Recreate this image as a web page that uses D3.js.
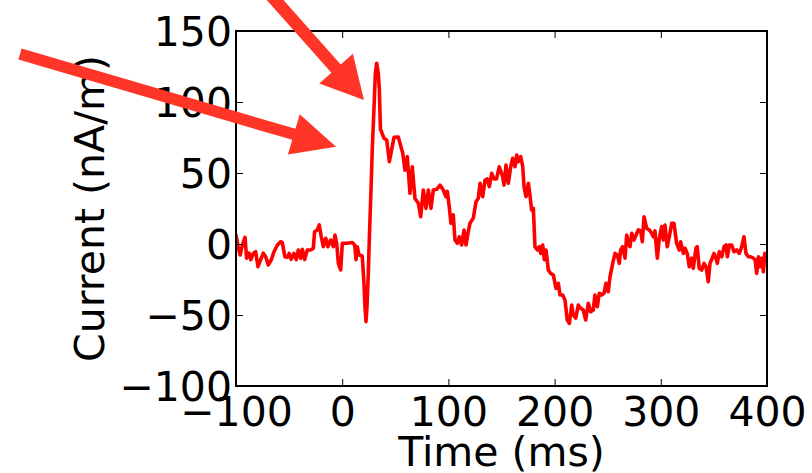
<!DOCTYPE html>
<html>
<head>
<meta charset="utf-8">
<script src="https://cdn.jsdelivr.net/npm/d3@7"></script>
<style>
  html, body { margin: 0; padding: 0; background: #fff; }
  svg { display: block; }
  text { font-family: "DejaVu Sans", sans-serif; fill: #000; }
</style>
</head>
<body>
<svg id="chart" width="812" height="473"></svg>
<script>
// ---- data ----
const time = [
  -100, -98, -96, -94, -91.5, -90, -87.8, -86, -83.7, -81.5, -79.3, -76.8, -74.3, -72, -69.6, -66.7,
  -64.2, -61, -58, -56.4, -54, -51.7, -50, -48, -45.4, -43.2, -41.3, -39, -37.6, -35.3, -32.9, -29.7,
  -27.2, -26, -23.5, -21.6, -19.7, -17.8, -15.5, -13.4, -10.9, -8.4, -6.8, -5.2, -3.6, -1.4, 0.1, 4.8,
  9.5, 11.8, 13, 14.2, 15.8, 18.9, 20.5, 21.5, 22.4, 23.3, 24.6, 25.5, 26.8, 28.3, 30, 31.2,
  32.5, 34, 35, 36, 39.4, 41.9, 44.4, 48.8, 52.8, 57, 59.1, 61.3, 63.8, 66, 68.5, 71.7,
  73.9, 76.4, 78.9, 81.1, 83.6, 85.8, 89, 92.1, 95.2, 97.7, 99, 100.8, 102.4, 104.6, 106.2, 108.4,
  110.3, 112.5, 114.7, 116.6, 118.7, 120.3, 123.4, 126, 128.2, 129.8, 132.3, 134.5, 136.6, 138.5, 140.8, 142.9,
  145.3, 147.9, 151.1, 152.4, 154.2, 156.4, 158.7, 160.5, 162.7, 164.3, 165.8, 168.1, 170, 171.2, 173.1, 175.3,
  176.8, 178.4, 180, 181.5, 183.7, 185.6, 186.9, 188.8, 190.3, 191.9, 194.1, 196.3, 198.8, 201.3, 203.5, 205.1,
  207.6, 209.8, 211.9, 213.9, 216.1, 217.6, 219.9, 222.3, 224.6, 227, 229.3, 231.7, 234, 236.4, 238, 240.2,
  242.1, 244.3, 246.5, 248.4, 250.5, 252.2, 254.7, 256.9, 259, 260.9, 262.2, 264.1, 266.3, 267.9, 269.4, 271,
  272.6, 274.8, 276.7, 278.8, 281.1, 282.6, 284.2, 286.7, 289.2, 291.4, 292.9, 294.5, 296.7, 298.6, 300.8, 302.4,
  303.9, 306.1, 308, 310.3, 312.4, 314.9, 317.4, 318.7, 321.2, 322.8, 324.9, 326.8, 329.1, 330.6, 333.1, 334.3,
  336.2, 338.5, 340.7, 342.6, 344.7, 346.3, 347.9, 350.1, 352, 353.2, 355.1, 357.4, 359.6, 361.5, 362.7, 364.6,
  366.8, 368.9, 371.5, 373.9, 376.2, 378.3, 380.2, 382.4, 384.6, 387.1, 388.7, 390.3, 391.9, 393.5, 395.1, 396.6,
  397.9, 399.2
];
const current = [
  6.3, -1.9, -7.7, -0.7, 4.7, -10, -6.4, -11, -6.6, -5.4, -16, -11, -6.5, -9, -14.8, -11,
  -5.4, -0.7, 1.6, 1, -9, -9.4, -6.6, -10.8, -6.6, -11, -4.2, -10, -3.7, -11, -4.2, -4.2,
  -3, 8.7, 9.9, 13.4, 5.1, -1.9, 4, -1.9, 2.8, -1.9, 6.3, 0.5, -13.6, -18.3, 0.5, 0.5,
  1, -0.7, -11, -1.9, -7.7, -8.5, -27.7, -45, -54.7, -45, -20.7, 2.8, 31, 66.2, 96.7, 120,
  127.3, 120, 108.5, 81, 74.4, 73.2, 58, 75.1, 75.4, 64, 52, 61.5, 35.7, 54.4, 32, 28.7,
  19.2, 38, 25.1, 38, 25.1, 38, 38.5, 41.5, 38, 33.3, 37, 26.3, 14.6, 20.5, 2.8, 0.5,
  5.1, -0.7, 9.9, -0.7, 8.7, 14.6, 18.1, 29.8, 32.2, 42.8, 33.3, 45, 45.8, 40.4, 49.8, 45.8,
  45.8, 54.4, 47.4, 41.5, 55.6, 42.8, 54.4, 60.3, 54.4, 62.7, 58, 61.5, 54.4, 40.4, 33.3, 42.8,
  34.5, 23.9, 25.1, -1.9, -4.2, -1.9, -6.6, -0.7, -11, -4.2, -18.3, -20.7, -21.8, -31.2, -27.7, -35.9,
  -35.9, -39.4, -53.5, -55.9, -43, -50, -52.3, -43, -45.3, -46.5, -53.5, -41.8, -47.7, -46.5, -35.9, -44.2,
  -34.7, -35.9, -34.7, -27.7, -33.6, -23, -13.6, -6.6, -7.7, -13.6, -4.2, -1.9, -10, 6.3, 0.5, -1.9,
  7.5, 2.8, 6.3, 9.9, 9.2, 1.6, 19.2, 11, 9.9, 7.5, 5.1, 9.2, -10, 4, 12.2, 2.8,
  13.4, -1.9, 5.1, 14.6, 14.6, 0.5, -4.2, 1.6, -6.6, -3, -6.6, -16, -10, -17.1, -3, -1.9,
  -17.1, -18.3, -13.6, -16, -26.5, -13.6, -11, -6.6, -10, -13.6, -5.4, -9, -1.9, -0.7, -9, -0.7,
  -0.7, -5.4, -4.2, -6.6, -1.9, 5.1, -6.6, -9, -9, -10, -11, -20.7, -9, -16, -10, -19.5,
  -6.6, -9
];
const xTicks = [-100, 0, 100, 200, 300, 400];
const yTicks = [-100, -50, 0, 50, 100, 150];
const xLabel = "Time (ms)";
const yLabel = "Current (nA/m)";
// annotation arrows: tail and tip in data units (ms, nA/m)
const arrowTails = [[-71.6, 178.9], [-303.4, 133.8]];
const arrowTips  = [[20.5, 101.4], [-5.8, 68.5]];

// ---- layout ----
const L = 236, R = 767, T = 31, B = 386;
const svg = d3.select("#chart");
svg.append("rect").attr("width", 812).attr("height", 473).attr("fill", "#fff");

const x = d3.scaleLinear().domain([-100, 400]).range([L, R]);
const y = d3.scaleLinear().domain([-100, 150]).range([B, T]);
const fmt = d => d < 0 ? "\u2212" + Math.abs(d) : String(d);
const FS = 41, TL = 7;

svg.append("defs").append("clipPath").attr("id", "clip")
  .append("rect").attr("x", L).attr("y", T).attr("width", R - L).attr("height", B - T);

// data line
const pts = time.map((t, i) => [t, current[i]]);
svg.append("path")
  .attr("clip-path", "url(#clip)")
  .attr("d", d3.line().x(d => x(d[0])).y(d => y(d[1]))(pts))
  .attr("fill", "none").attr("stroke", "#ff0000").attr("stroke-width", 3.6)
  .attr("stroke-linejoin", "round").attr("stroke-linecap", "round");

// axes (ticks inward on all four sides)
const axB = svg.append("g").attr("transform", `translate(0,${B})`)
  .call(d3.axisBottom(x).tickValues(xTicks).tickFormat(fmt).tickSizeInner(-TL).tickSizeOuter(0).tickPadding(11));
const axT = svg.append("g").attr("transform", `translate(0,${T})`)
  .call(d3.axisTop(x).tickValues(xTicks).tickFormat("").tickSizeInner(-TL).tickSizeOuter(0));
const axL = svg.append("g").attr("transform", `translate(${L},0)`)
  .call(d3.axisLeft(y).tickValues(yTicks).tickFormat(fmt).tickSizeInner(-TL).tickSizeOuter(0).tickPadding(4));
const axR = svg.append("g").attr("transform", `translate(${R},0)`)
  .call(d3.axisRight(y).tickValues(yTicks).tickFormat("").tickSizeInner(-TL).tickSizeOuter(0));
[axB, axT, axL, axR].forEach(a => {
  a.select(".domain").remove();
  a.selectAll(".tick line").attr("stroke", "#000").attr("stroke-width", 1);
  a.selectAll("text").attr("font-size", FS).attr("font-family", "DejaVu Sans").attr("fill", "#000");
});
axB.selectAll("text").attr("dy", null).attr("y", 0)
  .attr("transform", "translate(0,40)");
axL.selectAll("text").attr("dy", "0.36em");

// frame
svg.append("rect").attr("x", L).attr("y", T).attr("width", R - L).attr("height", B - T)
  .attr("fill", "none").attr("stroke", "#000").attr("stroke-width", 2);

// axis labels
svg.append("text").attr("x", (L + R) / 2).attr("y", 466).attr("text-anchor", "middle")
  .attr("font-size", FS).text(xLabel);
svg.append("text").attr("transform", `translate(104,${(T + B) / 2}) rotate(-90)`)
  .attr("text-anchor", "middle").attr("font-size", FS).text(yLabel);

// arrows
const arrowSpec = [{shaft: 12.5, headW: 45, headL: 42}, {shaft: 11.5, headW: 42, headL: 44}];
arrowTails.forEach((tl, i) => {
  const p0 = [x(tl[0]), y(tl[1])], p1 = [x(arrowTips[i][0]), y(arrowTips[i][1])];
  const dx = p1[0] - p0[0], dy = p1[1] - p0[1], len = Math.hypot(dx, dy);
  const ux = dx / len, uy = dy / len, nx = -uy, ny = ux;
  const s = arrowSpec[i], hb = [p1[0] - ux * s.headL, p1[1] - uy * s.headL];
  const P = (b, w) => [b[0] + nx * w, b[1] + ny * w];
  const poly = [P(p0, s.shaft / 2), P(hb, s.shaft / 2), P(hb, s.headW / 2), p1,
                P(hb, -s.headW / 2), P(hb, -s.shaft / 2), P(p0, -s.shaft / 2)];
  svg.append("path").attr("d", "M" + poly.map(p => p.join(",")).join("L") + "Z")
    .attr("fill", "#ff3527");
});
</script>
</body>
</html>
